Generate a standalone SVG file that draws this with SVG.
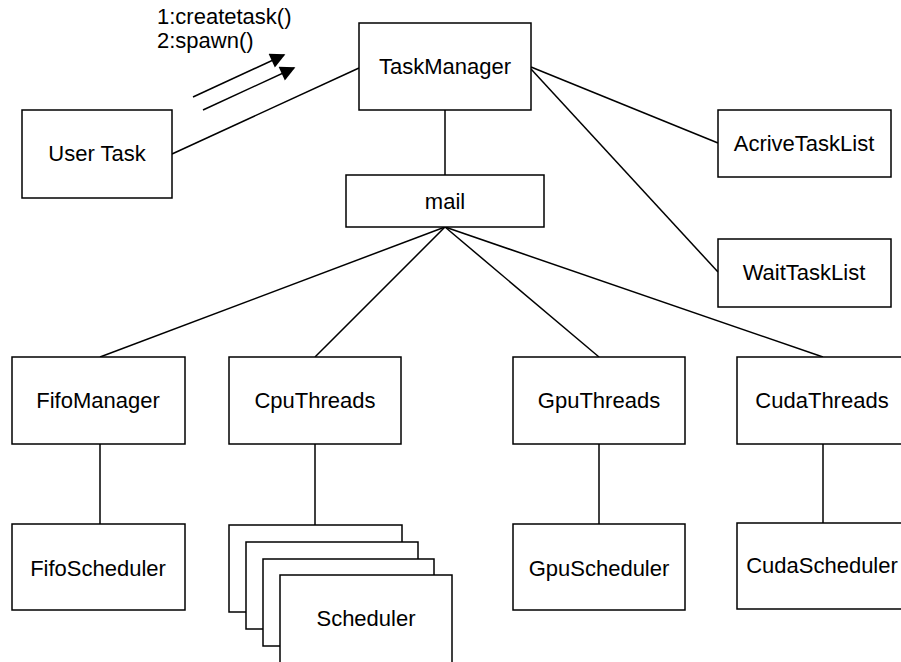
<svg xmlns="http://www.w3.org/2000/svg" width="901" height="662" viewBox="0 0 901 662">
<style>
.b{fill:#fff;stroke:#000;stroke-width:1.5}
.t{font-family:"Liberation Sans",Arial,sans-serif;font-size:22px;fill:#000;text-anchor:middle}
.l{font-family:"Liberation Sans",Arial,sans-serif;font-size:22px;fill:#000}
.c{stroke:#000;stroke-width:1.5;fill:none}
</style>
<defs>
<marker id="ah" viewBox="0 0 10 10" refX="9" refY="5" markerWidth="22" markerHeight="15" markerUnits="userSpaceOnUse" orient="auto">
<path d="M0,0 L10,5 L0,10 z" fill="#000"/>
</marker>
</defs>
<rect width="901" height="662" fill="#fff"/>
<g id="connectors">
<line class="c" x1="172" y1="154" x2="359" y2="68"/>
<line class="c" x1="193" y1="97" x2="284" y2="55" marker-end="url(#ah)"/>
<line class="c" x1="203" y1="110" x2="294" y2="68" marker-end="url(#ah)"/>
<line class="c" x1="531" y1="67" x2="718" y2="143"/>
<line class="c" x1="531" y1="69" x2="718" y2="272"/>
<line class="c" x1="445" y1="110" x2="445" y2="175"/>
<line class="c" x1="445" y1="227" x2="100" y2="357"/>
<line class="c" x1="445" y1="227" x2="315" y2="357"/>
<line class="c" x1="445" y1="227" x2="599" y2="357"/>
<line class="c" x1="445" y1="227" x2="823" y2="357"/>
<line class="c" x1="100" y1="444" x2="100" y2="524"/>
<line class="c" x1="315" y1="444" x2="315" y2="525"/>
<line class="c" x1="599" y1="444" x2="599" y2="524"/>
<line class="c" x1="823" y1="444" x2="823" y2="523"/>
</g>
<text class="l" x="157" y="24">1:createtask()</text>
<text class="l" x="157" y="48">2:spawn()</text>
<g id="TaskManager"><rect class="b" x="359" y="23" width="172" height="87"/><text class="t" x="445" y="74">TaskManager</text></g>
<g id="UserTask"><rect class="b" x="22" y="110" width="150" height="88"/><text class="t" x="97" y="161">User Task</text></g>
<g id="AcriveTaskList"><rect class="b" x="718" y="110" width="173" height="67"/><text class="t" x="804" y="151">AcriveTaskList</text></g>
<g id="WaitTaskList"><rect class="b" x="718" y="239" width="173" height="68"/><text class="t" x="804" y="280">WaitTaskList</text></g>
<g id="mail"><rect class="b" x="346" y="175" width="198" height="52"/><text class="t" x="445" y="209">mail</text></g>
<g id="FifoManager"><rect class="b" x="12" y="357" width="173" height="87"/><text class="t" x="98" y="408">FifoManager</text></g>
<g id="CpuThreads"><rect class="b" x="229" y="357" width="172" height="87"/><text class="t" x="315" y="408">CpuThreads</text></g>
<g id="GpuThreads"><rect class="b" x="513" y="357" width="172" height="87"/><text class="t" x="599" y="408">GpuThreads</text></g>
<g id="CudaThreads"><rect class="b" x="737" y="357" width="172" height="87"/><text class="t" x="822" y="408">CudaThreads</text></g>
<g id="FifoScheduler"><rect class="b" x="12" y="524" width="173" height="86"/><text class="t" x="98" y="576">FifoScheduler</text></g>
<g id="Scheduler">
<rect class="b" x="229" y="525" width="173" height="87"/>
<rect class="b" x="246" y="542" width="172" height="87"/>
<rect class="b" x="263" y="559" width="171" height="87"/>
<rect class="b" x="280" y="575" width="172" height="95"/>
<text class="t" x="366" y="626">Scheduler</text>
</g>
<g id="GpuScheduler"><rect class="b" x="513" y="524" width="172" height="86"/><text class="t" x="599" y="576">GpuScheduler</text></g>
<g id="CudaScheduler"><rect class="b" x="737" y="523" width="172" height="86"/><text class="t" x="822" y="573">CudaScheduler</text></g>
</svg>
